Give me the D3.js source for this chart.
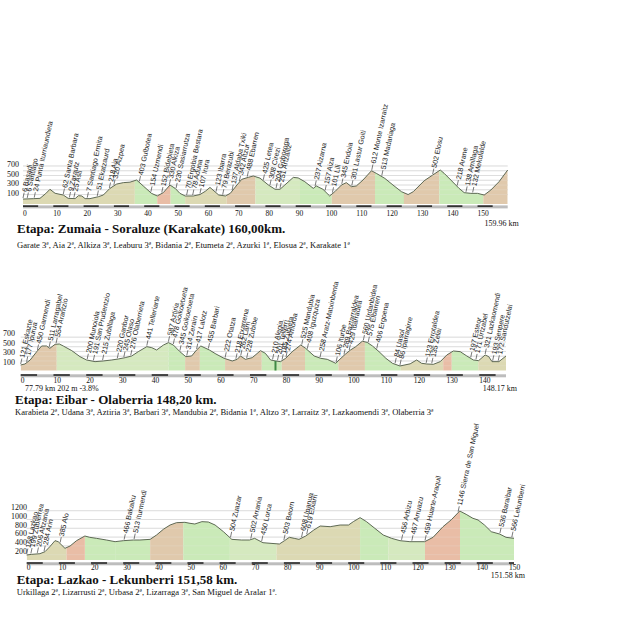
<!DOCTYPE html>
<html><head><meta charset="utf-8">
<script src="https://cdn.jsdelivr.net/npm/d3@7"></script>
<style>body{margin:0;background:#fff}svg{display:block}</style>
</head><body>
<svg id="c" width="633" height="640"></svg>
<script>
// ---------- DATA ----------
const p1Km  = [0,3.4,5.6,7.5,8.9,10.6,13.3,14.9,17.2,18.3,19.4,20.5,22.1,24.9,26.5,28.7,30.9,33.1,35.3,37.5,39.7,42.4,44.3,46.3,48.5,50.2,51.8,53.5,56.2,58.4,60.2,61.7,64.6,66.8,68.4,70.6,72.2,74.4,76.0,78.2,81.0,83.2,84.8,86.4,89.2,90.8,93.0,95.8,96.8,99.0,101.2,102.9,105.1,106.7,108.4,110.0,112.2,115.0,116.6,119.4,122.1,124.9,127.1,128.8,132.4,135.2,137.7,139.0,141.2,143.9,145.6,147.8,150.0,152.2,154.4,157.1,159.96];
const p1Ele = [5,13,20,120,210,126,90,20,14,76,70,14,14,55,90,230,320,350,360,405,280,125,70,140,300,230,125,70,70,100,170,250,90,70,125,300,420,462,490,445,300,210,210,300,460,450,370,230,280,210,70,160,300,350,265,280,405,600,545,440,300,160,100,160,390,510,615,545,405,230,140,125,125,90,195,370,615];
const p1SegKm  = [0,36.9,44.3,48.7,53.5,67.2,76.7,91.4,101.9,116.2,125.7,137.4,151.9,159.96];
const p1SegCls = ["k","g","s","g","k","t","g2","g","t","g","t","g","t"];
const p1LabKm  = [0,1.4,3.7,13.3,15.3,16.8,21.2,24.5,28.5,30.0,38.4,42.2,45.8,48.3,50.5,54.0,56.0,58.4,63.7,65.9,69.0,71.4,74.0,79.3,81.5,83.5,84.8,96.4,99.7,102.1,105.2,108.5,115.1,118.4,135.2,143.3,146.2,148.4];
const p1LabTxt = ["6 Basadi","6 Santiago","24 Punta Iturriaundieta","62 Santa Barbara","9 Zarautz","25 Asti","7 Santiago Ermita","51 Ekatzaurd","218 Aia","320 Aizpea","403 Gulbotea","154 Uzmendi","152 Bidebieta","330 Alkiza","230 Sasiarrutza","70 Ergobia Bestara","78 Aduna","107 Irura","123 Ibarra","79 Berazubi","137 Aldaba Txiki","342 Altzur","488 Ebarren","425 Letea","308 Cirezi","204 Goboroga","251 Artzailiz","237 Aizarna","157 Aiza","101 Lili","345 Endoia","301 Lastur Goiti","612 Monte Izarraitz","513 Madariaga","502 Elosu","218 Arane","138 Amillaga","132 Mekolalde"];

const p2Km  = [0,1.3,2.9,4.9,6.4,7.9,8.9,10.5,11.8,13.0,15.6,18.1,20.1,22.7,25.2,27.8,29.8,31.9,33.9,35.9,38.5,40.0,41.5,43.6,45.1,46.6,48.6,50.4,52.2,53.7,55.0,57.6,59.6,62.1,64.6,66.1,67.1,68.6,70.7,73.2,74.7,76.3,77.8,79.3,80.9,82.9,85.5,87.0,89.6,91.6,93.6,96.2,97.2,99.2,100.7,102.3,104.3,105.8,107.4,109.4,111.5,113.5,115.8,118.9,120.9,122.4,124.0,126.0,128.1,130.1,132.1,134.2,136.2,138.2,139.8,141.8,142.9,143.9,146.0,148.17];
const p2Ele = [116,137,221,396,515,515,466,550,557,515,417,291,221,186,200,221,242,270,305,396,501,480,431,536,585,536,396,291,305,431,515,431,347,256,200,235,305,235,270,417,361,221,200,186,256,396,536,466,305,256,235,151,221,347,431,501,615,590,515,396,256,151,95,140,221,151,137,130,186,326,410,396,305,221,207,326,291,186,186,305];
const p2SegKm  = [0,11.0,45.1,50.2,54.7,62.4,73.6,79.7,86.8,97.0,105.1,116.0,129.0,131.6,139.7,148.17];
const p2SegCls = ["t","g2","g","t","g","t","g","t","g","t","g","k","s","g","k"];
const p2LabKm  = [0,1.8,5.1,8.7,10.8,20.3,22.2,25.0,29.5,31.5,33.6,38.5,45.1,46.6,48.6,50.7,53.7,57.3,62.4,65.7,67.2,69.0,76.9,78.4,79.8,81.0,85.8,87.5,91.4,96.3,98.7,100.3,104.6,106.1,108.7,114.3,115.8,123.8,125.5,137.4,139.0,141.8,144.1,145.8];
const p2LabTxt = ["121 Eskazte","177 Ipurua","450 Garmendi","511 Larragabel","554 Arantzio","200 Munoiola","191 San Prudentzio","215 Zubillaga","220 Ganbor","245 Olaso","276 Olaberrieta","441 Telleriarte","587 Aztiria","478 Goikoetxeta","345 Goikoetxeta","314 Zerain","417 Lalotz","455 Barbari","222 Otatza","218 Etxarrena","262 Larri","228 Zubibe","210 Alegia","201 Tellerri","185 Zubieta","274 Amoroa","525 Mandubia","408 Iguzquiza","258 Aratz-Matxinbenta","106 Iturbe","289 Baztarraldea","429 Ibarradea","560 Urdanbidea","575 Elbarren","406 Ergoena","84 Uasol","86 Iparragirre","123 Errotaldea","135 Zelai","197 Esteor","171 Urtzabel","321 Lazkaomendi","193 Senpere","172 Sandutzelai"];
const p2Cursor = [77.79, 202];

const p3Km  = [0,1.5,4.1,5.7,7.2,8.8,9.8,11.9,13.5,15.5,18.1,19.6,21.7,24.8,27.5,30.1,33.2,35.2,38.4,40.4,42.5,44.6,46.6,49.2,50.8,52.3,54.5,56.5,58.6,61.2,63.8,66.8,69.3,70.9,73.5,76.0,78.6,80.2,81.7,83.2,84.7,86.8,89.3,91.3,94.4,97.5,100.1,101.6,103.7,105.7,108.3,110.9,113.5,116.1,119.2,123.8,126.4,129.5,132.1,134.7,136.7,138.8,140.4,142.4,144.5,147.1,149.1,151.58];
const p3Ele = [193,208,223,269,383,519,496,345,398,519,625,595,572,534,496,519,534,534,549,648,777,875,928,936,913,898,951,943,875,723,549,534,534,572,473,458,443,519,595,572,549,625,761,852,837,875,875,951,1042,951,799,648,572,519,496,496,595,837,996,1193,1117,1027,989,875,723,670,595,572];
const p3SegKm  = [0,12.4,18.1,27.5,38.4,48.7,63.2,77.7,103.7,112.5,123.9,134.8,151.58];
const p3SegCls = ["k","s","g","g","t","g","g2","k","g","g2","s","g"];
const p3LabKm  = [0,1.3,3.3,5.4,10.4,30.3,33.4,63.4,69.7,73.1,80.0,85.5,87.1,116.6,119.8,123.9,134.2,147.2,150.9];
const p3LabTxt = ["168 Lazkao","199 Zubierrea","206 Altzania","284 Arin","385 Alo","466 Bakaiku","513 Iturmendi","504 Zuazar","502 Arrania","450 Lorca","503 Beorn","608 Unanua","619 Etxarri","456 Arbizu","467 Arruazu","459 Huarte-Araquil","1146 Sierra de San Miguel","536 Baraibar","566 Lekunberri"];

const p1Grid = [100,200,300,400,500,600,700], p1YLab = [100,300,500,700];
const p2Grid = [100,200,300,400,500,600,700], p2YLab = [100,300,500,700];
const p3Grid = [200,400,600,800,1000,1200],   p3YLab = [200,400,600,800,1000,1200];

const titles    = ["Etapa: Zumaia - Soraluze (Karakate) 160,00km.","Etapa: Eibar - Olaberria 148,20 km.","Etapa: Lazkao - Lekunberri 151,58 km."];
const subtitles = ["Garate 3ª, Aia 2ª, Alkiza 3ª, Leaburu 3ª, Bidania 2ª, Etumeta 2ª, Azurki 1ª, Elosua 2ª, Karakate 1ª",
  "Karabieta 2ª, Udana 3ª, Aztiria 3ª, Barbari 3ª, Mandubia 2ª, Bidania 1ª, Altzo 3ª, Larraitz 3ª, Lazkaomendi 3ª, Olaberria 3ª",
  "Urkillaga 2ª, Lizarrusti 2ª, Urbasa 2ª, Lizarraga 3ª, San Miguel de Aralar 1ª."];
const endLabels = ["159.96 km","148.17 km","151.58 km"];
const cursorLabel = "77.79 km 202 m -3.8%";

// ---------- STYLE / LAYOUT ----------
const colors = {k:"#d7d4a9", g:"#c3e7ae", g2:"#cfe6b6", t:"#dcc2a1", s:"#e6b49a"};
const svg = d3.select("#c");
let clipId = 0;

function drawProfile(L, km, ele, segKm, segCls, labKm, labTxt, grid, yLab, title, sub, endLab) {
  const total = km[km.length-1];
  const x = d3.scaleLinear().domain([0,total]).range([L.x0, L.x1]);
  const y = d3.scaleLinear().domain([0,1000]).range([L.zeroY, L.zeroY - 1000*L.ppm]);
  const pts = km.map((k,i)=>[k, ele[i]]);
  const g = svg.append("g");

  g.selectAll(null).data(grid).join("line")
    .attr("x1", x(0)).attr("x2", x(total))
    .attr("y1", d=>y(d)).attr("y2", d=>y(d))
    .attr("stroke","#c4c4c4").attr("stroke-width",0.7);

  const area = d3.area().x(d=>x(d[0])).y0(y(L.baseEle)).y1(d=>y(d[1]));
  segCls.forEach((c,i)=>{
    const id = "clp"+(clipId++);
    svg.append("clipPath").attr("id",id).append("rect")
      .attr("x", x(segKm[i])).attr("width", x(segKm[i+1])-x(segKm[i]))
      .attr("y", 0).attr("height", 640);
    g.append("path").datum(pts).attr("d", area)
      .attr("fill", colors[c]).attr("fill-opacity",0.88).attr("clip-path", `url(#${id})`);
  });
  g.selectAll(null).data(grid).join("line")
    .attr("x1", x(0)).attr("x2", x(total))
    .attr("y1", d=>y(d)).attr("y2", d=>y(d))
    .attr("stroke","#ffffff").attr("stroke-opacity",0.35).attr("stroke-width",0.6);

  g.append("path").datum(pts)
    .attr("d", d3.line().x(d=>x(d[0])).y(d=>y(d[1])))
    .attr("fill","none").attr("stroke","#4e5a45").attr("stroke-width",0.9);

  g.selectAll(null).data(yLab).join("text")
    .attr("x", L.yLabRight).attr("y", d=>y(d)+L.yLabOff)
    .attr("dy","0.35em").attr("text-anchor","end")
    .attr("font-family","'Liberation Serif','Times New Roman',serif").attr("font-size",8)
    .attr("fill","#111").text(d=>d);

  g.append("rect").attr("x", x(0)).attr("width", x(total)-x(0))
    .attr("y", L.barY).attr("height", 3).attr("fill","#bdbdbd");
  const ticks = d3.range(0, total, 10);
  g.selectAll(null).data(ticks).join("rect")
    .attr("x", d=>x(d)).attr("width", d=>x(Math.min(d+5,total))-x(d))
    .attr("y", L.barY).attr("height",1.4).attr("fill","#111");
  g.selectAll(null).data(ticks).join("text")
    .attr("x", d=>x(d)).attr("y", L.tickY)
    .attr("font-family","'Liberation Serif','Times New Roman',serif").attr("font-size",7.5)
    .attr("fill","#111").text(d=>d);
  g.append("text").attr("x", x(total)+11).attr("y", L.endY).attr("text-anchor","end")
    .attr("font-family","'Liberation Serif','Times New Roman',serif").attr("font-size",8)
    .attr("fill","#111").text(endLab);

  const bis = d3.bisector(d=>d).left;
  const interp = k => {
    let i = Math.max(1, Math.min(km.length-1, bis(km, k)));
    const t = (k-km[i-1])/(km[i]-km[i-1]);
    return ele[i-1] + t*(ele[i]-ele[i-1]);
  };
  labKm.forEach((k,i)=>{
    const lg = g.append("g")
      .attr("transform", `translate(${x(k)},${y(interp(k))-1}) rotate(-78)`);
    lg.append("line").attr("x1",0).attr("x2",5.5).attr("stroke","#333").attr("stroke-width",0.6);
    lg.append("text").attr("x",6.5).attr("dy","0.33em")
      .attr("font-family","'Liberation Sans',Arial,sans-serif").attr("font-size",7.1)
      .attr("fill","#222").text(labTxt[i]);
  });

  g.append("text").attr("x", L.titleX).attr("y", L.titleY)
    .attr("font-family","'Liberation Serif','Times New Roman',serif").attr("font-weight","bold")
    .attr("font-size",13).attr("fill","#111").text(title);
  g.append("text").attr("x", L.titleX).attr("y", L.subY)
    .attr("font-family","'Liberation Serif','Times New Roman',serif")
    .attr("font-size",8.6).attr("fill","#111").text(sub);
  return {x, y, g};
}

const L1 = {x0:23,   x1:507.7, zeroY:199.3, ppm:0.0476, baseEle:-100, barY:205.4, tickY:215.5, endY:225.5, yLabRight:19, yLabOff:-1.5, titleY:233, subY:248, titleX:17};
const L2 = {x0:20.7, x1:506,   zeroY:370.5, ppm:0.0476, baseEle:0,    barY:374.3, tickY:382.8, endY:391,   yLabRight:15, yLabOff:-4,   titleY:403.5, subY:415, titleX:15};
const L3 = {x0:26.7, x1:514,   zeroY:563.5, ppm:0.044,  baseEle:80,   barY:562.3, tickY:570,   endY:578,   yLabRight:27, yLabOff:-3.5, titleY:583.5, subY:595, titleX:16.7};

drawProfile(L1, p1Km, p1Ele, p1SegKm, p1SegCls, p1LabKm, p1LabTxt, p1Grid, p1YLab, titles[0], subtitles[0], endLabels[0]);
const r2 = drawProfile(L2, p2Km, p2Ele, p2SegKm, p2SegCls, p2LabKm, p2LabTxt, p2Grid, p2YLab, titles[1], subtitles[1], endLabels[1]);
drawProfile(L3, p3Km, p3Ele, p3SegKm, p3SegCls, p3LabKm, p3LabTxt, p3Grid, p3YLab, titles[2], subtitles[2], endLabels[2]);

r2.g.append("line").attr("x1", r2.x(p2Cursor[0])).attr("x2", r2.x(p2Cursor[0]))
  .attr("y1", r2.y(p2Cursor[1])).attr("y2", r2.y(L2.baseEle))
  .attr("stroke","#3f8a45").attr("stroke-width",2);
r2.g.append("text").attr("x",25).attr("y",L2.endY)
  .attr("font-family","'Liberation Serif','Times New Roman',serif").attr("font-size",8)
  .attr("fill","#111").text(cursorLabel);
</script>
</body></html>
